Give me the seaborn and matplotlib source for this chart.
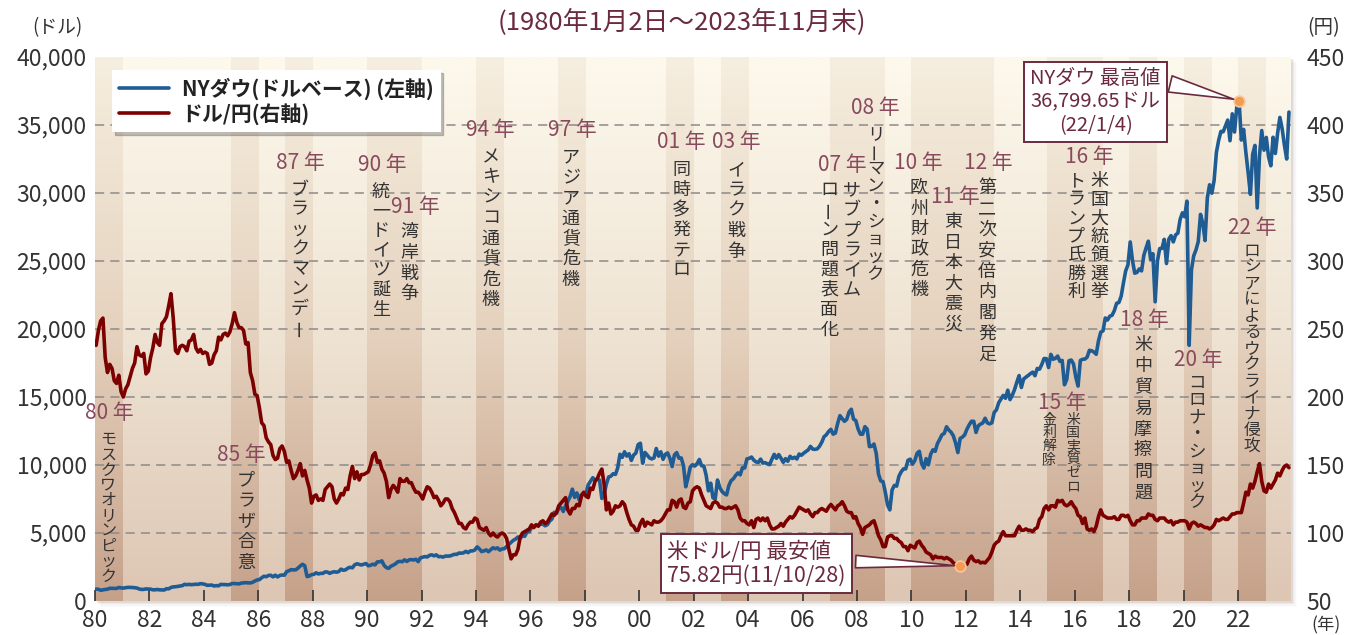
import numpy as np
import pandas as pd
import matplotlib
matplotlib.use("Agg")
import matplotlib.pyplot as plt
import seaborn as sns
from matplotlib.lines import Line2D
from matplotlib.patches import Rectangle

sns.set_theme(style="white")
plt.rcParams['font.family'] = ['Noto Sans CJK JP', 'DejaVu Sans']

# NYダウ 月次 (1980/1 - 2023/11), ドル
dow_values = [
    876, 863, 786, 817, 851, 868, 935, 933, 932, 925, 993, 964,            # 1980
    947, 975, 1004, 998, 992, 977, 953, 882, 850, 853, 889, 875,           # 1981
    871, 824, 823, 848, 820, 812, 809, 901, 896, 992, 1039, 1047,          # 1982
    1076, 1113, 1130, 1226, 1200, 1222, 1199, 1216, 1233, 1225, 1276, 1259,
    1221, 1155, 1165, 1171, 1105, 1132, 1115, 1224, 1207, 1207, 1189, 1212,
    1287, 1284, 1267, 1258, 1316, 1336, 1348, 1334, 1329, 1375, 1472, 1547,
    1571, 1709, 1819, 1784, 1877, 1893, 1775, 1898, 1768, 1878, 1914, 1896,
    2158, 2224, 2305, 2286, 2292, 2419, 2572, 2700, 2596, 1800, 1834, 1939,  # 1987
    1958, 2072, 1989, 2032, 2031, 2142, 2129, 2032, 2113, 2149, 2115, 2169,
    2342, 2259, 2294, 2419, 2480, 2440, 2661, 2737, 2693, 2645, 2706, 2753,
    2591, 2627, 2707, 2657, 2877, 2881, 2950, 2614, 2453, 2400, 2560, 2634,  # 1990
    2736, 2882, 2914, 2888, 3028, 2907, 3025, 3044, 3017, 3069, 2895, 3169,
    3224, 3267, 3236, 3359, 3397, 3319, 3394, 3257, 3272, 3226, 3305, 3301,
    3310, 3370, 3435, 3428, 3527, 3516, 3540, 3651, 3555, 3681, 3684, 3754,
    3978, 3832, 3636, 3682, 3758, 3625, 3765, 3913, 3843, 3908, 3739, 3834,
    3844, 4011, 4158, 4321, 4465, 4556, 4709, 4611, 4789, 4756, 5075, 5117,  # 1995
    5395, 5486, 5588, 5569, 5643, 5655, 5529, 5616, 5882, 6029, 6522, 6448,
    6813, 6878, 6584, 7009, 7331, 7673, 8223, 7622, 7945, 7442, 7823, 7908,
    7907, 8546, 8800, 9063, 8900, 8952, 8883, 7539, 7843, 8592, 9117, 9181,
    9359, 9307, 9786, 10789, 10560, 10971, 10655, 10829, 10337, 10729, 10878, 11497,
    11600, 10128, 10922, 10734, 10522, 10448, 10522, 11215, 10651, 10971, 10415, 10787,  # 2000
    10887, 10495, 9879, 10735, 10912, 10502, 10523, 9950, 8400, 9075, 9852, 10022,
    9920, 10106, 10404, 9946, 9925, 9243, 8100, 8664, 7592, 7500, 8896, 8342,
    8054, 7891, 7800, 8480, 8850, 8985, 9234, 9416, 9275, 9801, 9782, 10454,
    10488, 10584, 10358, 10226, 10188, 10435, 10140, 10174, 10080, 10027, 10428, 10783,
    10490, 10766, 10504, 10193, 10467, 10275, 10641, 10482, 10569, 10440, 10806, 10718,  # 2005
    10865, 10993, 11109, 11367, 11168, 11150, 11186, 11381, 11679, 12081, 12222, 12463,
    12622, 12268, 12354, 13063, 13628, 13409, 13212, 13358, 13896, 14100, 13372, 13265,
    12650, 12266, 12263, 12820, 12638, 11350, 11378, 11544, 10851, 9325, 8829, 8776,
    8001, 7063, 6700, 8168, 8500, 8447, 9172, 9496, 9712, 9713, 10345, 10428,
    10067, 10325, 10857, 11009, 10137, 9774, 10466, 10015, 10788, 11118, 11006, 11578,  # 2010
    11892, 12226, 12320, 12811, 12570, 12414, 12143, 11614, 10913, 11955, 12046, 12218,
    12633, 12952, 13212, 13214, 12393, 12880, 13009, 13091, 13437, 13096, 13026, 13104,
    13861, 14054, 14579, 14840, 15116, 14910, 15500, 14810, 15130, 15546, 16086, 16577,
    15699, 16322, 16458, 16581, 16717, 16827, 16563, 17098, 17043, 17391, 17828, 17823,
    17165, 18133, 17776, 17841, 18011, 17620, 17690, 15900, 16285, 17664, 17720, 17425,  # 2015
    16466, 15800, 17685, 17774, 17787, 17930, 18432, 18401, 18308, 18142, 19124, 19763,
    19864, 20812, 20663, 20941, 21009, 21350, 21891, 21948, 22405, 23377, 24272, 24719,
    26400, 25029, 24103, 24163, 24416, 24271, 25415, 25965, 26458, 25116, 25538, 22000,
    24999, 25916, 25929, 26593, 24815, 26600, 26864, 26403, 26917, 27046, 28051, 28538,
    28256, 29400, 18800, 24346, 25383, 25813, 26428, 28430, 27782, 26502, 29638, 30606,  # 2020
    29983, 30932, 32982, 33875, 34529, 34503, 34935, 35361, 33844, 35820, 34484, 36338,
    36799.65, 33893, 34678, 32977, 31500, 29900, 32845, 33500, 28900, 32733, 34590, 33147,
    34086, 32657, 32000, 34098, 32908, 34408, 35560, 34722, 33508, 32500, 35951,        # 2023
]

# ドル/円 月次, 円
usdjpy_values = [
    238, 249, 256, 258, 229, 218, 224, 221, 212, 210, 216, 204,   # 1980
    200, 206, 209, 215, 221, 225, 237, 231, 230, 232, 217, 219,
    229, 236, 246, 240, 238, 254, 256, 259, 267, 276, 258, 234,
    232, 237, 238, 237, 234, 241, 242, 246, 236, 233, 235, 232,
    233, 232, 224, 225, 231, 234, 244, 242, 246, 247, 245, 248,
    254, 262, 255, 251, 251, 249, 239, 240, 218, 212, 202, 201,   # 1985
    192, 181, 179, 170, 167, 165, 157, 154, 155, 162, 164, 160,
    152, 153, 146, 140, 142, 146, 151, 142, 146, 139, 133, 122,
    127, 128, 124, 125, 124, 132, 134, 136, 134, 125, 122, 125,
    129, 128, 133, 132, 142, 149, 140, 145, 139, 143, 143, 144,
    145, 150, 157, 159, 152, 153, 147, 144, 138, 126, 132, 135,   # 1990
    133, 130, 140, 138, 138, 140, 137, 137, 133, 130, 130, 128,
    125, 130, 134, 133, 130, 126, 127, 124, 120, 122, 125, 125,
    123, 118, 115, 111, 107, 107, 104, 103, 106, 108, 108, 111,
    110, 104, 103, 102, 104, 100, 98, 100, 98, 97, 99, 100,
    99, 96, 88, 81, 84, 84, 88, 97, 100, 101, 102, 103,           # 1995
    106, 104, 106, 105, 108, 109, 107, 108, 111, 114, 113, 115,
    120, 122, 124, 126, 117, 114, 118, 118, 121, 120, 127, 130,
    127, 126, 133, 132, 138, 140, 144, 147, 136, 117, 122, 114,
    116, 120, 119, 120, 123, 121, 115, 110, 106, 105, 102, 102,
    107, 110, 105, 108, 107, 106, 109, 108, 108, 109, 111, 114,   # 2000
    117, 117, 124, 123, 119, 124, 125, 119, 118, 122, 123, 131,
    133, 134, 133, 128, 124, 120, 119, 118, 122, 123, 122, 119,
    119, 118, 118, 119, 118, 119, 120, 117, 111, 109, 109, 107,
    106, 109, 104, 110, 111, 109, 111, 109, 111, 106, 103, 103,
    104, 105, 107, 105, 108, 110, 112, 111, 113, 116, 119, 118,   # 2005
    117, 116, 117, 114, 112, 115, 115, 117, 118, 117, 116, 119,
    121, 119, 117, 120, 121, 123, 120, 116, 115, 115, 111, 112,
    107, 104, 99, 104, 105, 106, 108, 109, 104, 98, 95, 90,
    90, 97, 98, 98, 96, 96, 94, 93, 90, 90, 87, 91,
    90, 89, 93, 94, 91, 89, 86, 85, 84, 81, 83, 82,               # 2010
    82, 82, 81, 82, 81, 80, 78, 77, 77, 75.82, 78, 77,
    77, 81, 83, 80, 79, 79.5, 78, 78.5, 78, 80, 82, 86,
    91, 93, 94, 98, 101, 98, 98, 98, 98, 98, 102, 105,
    102, 102, 103, 102, 102, 101, 103, 104, 110, 112, 118, 120,
    117, 120, 120, 119, 124, 123, 124, 121, 120, 121, 123, 120,   # 2015
    118, 113, 112, 107, 111, 103, 102, 103, 101, 105, 112, 117,
    113, 112, 111, 111, 111, 112, 110, 110, 113, 113, 112, 113,
    109, 106, 106, 109, 109, 111, 111, 111, 114, 113, 113, 110,
    109, 111, 111, 111, 109, 108, 109, 106, 108, 108, 109, 109,
    109, 108, 103, 107, 108, 107, 105, 106, 105, 104, 104, 103,   # 2020
    104, 106, 110, 109, 110, 111, 110, 110, 112, 114, 114, 115,
    115, 115, 122, 130, 128, 136, 133, 138, 145, 151, 138, 131,
    130, 136, 133, 136, 139, 144, 142, 146, 149, 150, 148,        # 2023
]

event_years = [1980, 1985, 1987, 1990, 1991, 1994, 1997, 2001, 2003, 2007,
               2008, 2010, 2011, 2012, 2015, 2016, 2018, 2020, 2022]
event_names = ['モスクワオリンピック', 'プラザ合意', 'ブラックマンデー', '統一ドイツ誕生',
               '湾岸戦争', 'メキシコ通貨危機', 'アジア通貨危機', '同時多発テロ', 'イラク戦争',
               'サブプライム|ローン問題表面化', 'リーマン・ショック', '欧州財政危機',
               '東日本大震災', '第二次安倍内閣発足', '米国実質ゼロ|金利解除',
               '米国大統領選挙|トランプ氏勝利', '米中貿易摩擦問題', 'コロナ・ショック',
               'ロシアによるウクライナ侵攻']

# 配置 (年ラベルx, 年ラベルy[ドル], 列のx, 縦書き開始y[ドル], 文字送り px, 文字サイズ)
event_layout = [
    (1980.51, 13824, [1980.49], 12427, 15.2, 11.5),
    (1985.37, 10735, [1985.55], 9632, 20.7, 13),
    (1987.53, 32206, [1987.53], 30956, 19.8, 13),
    (1990.55, 32059, [1990.51], 30810, 19.7, 13),
    (1991.76, 28971, [1991.54], 27874, 20.7, 13),
    (1994.52, 34633, [1994.55], 33383, 20.4, 13),
    (1997.53, 34633, [1997.49], 33383, 20.4, 13),
    (2001.54, 33751, [2001.54], 32427, 20.0, 13),
    (2003.56, 33751, [2003.56], 32427, 20.4, 13),
    (2007.45, 32059, [2007.82, 2006.99], 30956, 20.0, 13),
    (2008.67, 36250, [2008.68], 35000, 17.5, 12.5),
    (2010.25, 32206, [2010.28], 31103, 20.3, 13),
    (2011.61, 29706, [2011.53], 28603, 20.5, 13),
    (2012.82, 32206, [2012.78], 31103, 20.8, 13),
    (2015.54, 14559, [2015.94, 2015.06], 13824, 13.3, 10),
    (2016.53, 32647, [2016.90, 2016.05], 31544, 18.5, 13),
    (2018.55, 20662, [2018.51], 19559, 21.0, 13),
    (2020.54, 17721, [2020.50], 16618, 17.0, 12.5),
    (2022.52, 27427, [2022.52], 26324, 16.3, 12),
]

DOW_C = '#1f5c94'
JPY_C = '#7d0000'
MAUVE = '#8a4a5e'
MAROON = '#6b2a3e'
TXT = '#333333'

months = pd.date_range('1980-01-01', periods=len(dow_values), freq='MS')
df = pd.DataFrame({
    't': months.year + (months.month - 0.5) / 12,
    'dow': dow_values,
    'jpy': usdjpy_values,
})

fig = plt.figure(figsize=(13.47, 6.35), dpi=100)
L, B, W, H = 95 / 1347, 1 - 601 / 635, 1196 / 1347, 544 / 635
ax = fig.add_axes([L, B, W, H])
ax2 = ax.twinx()

# 影
for i, a in enumerate([0.10, 0.07, 0.04, 0.02]):
    off = (i + 1) * 1.5
    fig.patches.append(Rectangle((L + off / 1347, B - off / 635), W, H,
                                 transform=fig.transFigure, color='#6b5a50',
                                 alpha=a, zorder=-5, lw=0))

x0, x1 = 1980.0, 2023.95


def grad(top, mid, bot, n=256):
    c = [np.array(matplotlib.colors.to_rgb(v)) for v in (top, mid, bot)]
    t = np.linspace(0, 1, n)[:, None]
    g = np.where(t <= 0.5, c[0] + (c[1] - c[0]) * (t / 0.5),
                 c[1] + (c[2] - c[1]) * ((t - 0.5) / 0.5))
    return g[:, None, :]


ax.imshow(grad('#fdf9ec', '#efe4d4', '#ddc6b3'), extent=(x0, x1, 0, 40000),
          aspect='auto', zorder=0, interpolation='bilinear')
band = grad('#f6eedf', '#e5d2be', '#c6a18a')
for y in event_years:
    ax.imshow(band, extent=(y, y + 1, 0, 40000), aspect='auto', zorder=0.5,
              interpolation='bilinear')

for v in range(5000, 40000, 5000):
    ax.axhline(v, color='#8e8a88', lw=1.1, dashes=(6, 4), zorder=1)


def vtext(x, ytop, s, step, size):
    for i, ch in enumerate(s):
        ax.annotate(ch, xy=(x, ytop), xytext=(0, -(i + 0.5) * step * 0.72),
                    textcoords='offset points', ha='center', va='center',
                    rotation=90 if ch == 'ー' else 0, fontsize=size, color=TXT,
                    zorder=2, annotation_clip=False)


for yr, name, (lx, ly, cols, top, step, size) in zip(event_years, event_names, event_layout):
    ax.text(lx, ly, f"{yr % 100:02d} 年", ha='center', va='center', fontsize=15,
            color=MAUVE, zorder=2)
    for cx, part in zip(cols, name.split('|')):
        vtext(cx, top, part, step, size)

sns.lineplot(data=df, x='t', y='dow', ax=ax, color=DOW_C, linewidth=2.6, zorder=3)
sns.lineplot(data=df, x='t', y='jpy', ax=ax2, color=JPY_C, linewidth=2.6, zorder=3)

ax.set_xlim(x0, x1)
ax.set_ylim(0, 40000)
ax2.set_ylim(50, 450)
ax.set_xlabel('')
ax.set_ylabel('')
ax2.set_ylabel('')
for a in (ax, ax2):
    for s in a.spines.values():
        s.set_visible(False)

xt = list(range(1980, 2023, 2))
ax.set_xticks(xt)
ax.set_xticklabels([f"{v % 100:02d}" for v in xt])
ax.set_yticks(range(0, 40001, 5000))
ax.set_yticklabels([f"{v:,}" for v in range(0, 40001, 5000)])
ax2.set_yticks(range(50, 451, 50))
ax.tick_params(axis='x', direction='in', length=8, width=1.2, color=TXT,
               labelsize=16.5, labelcolor=TXT, pad=6, bottom=True)
ax.tick_params(axis='y', length=0, labelsize=16.5, labelcolor=TXT, pad=6)
ax2.tick_params(axis='y', length=0, labelsize=16.5, labelcolor=TXT, pad=11)

# 最高値・最安値
imax = df['dow'].idxmax()
imin = df['jpy'].idxmin()
ax.scatter(df.loc[imax, 't'], df.loc[imax, 'dow'], s=60, color='#f59a52',
           edgecolor='#f9c89c', linewidth=1.2, zorder=5)
ax2.scatter(df.loc[imin, 't'], df.loc[imin, 'jpy'], s=60, color='#f59a52',
            edgecolor='#f9c89c', linewidth=1.2, zorder=5)

box = dict(boxstyle='square,pad=0.3', fc='white', ec=MAROON, lw=1.4)
ax.annotate('NYダウ 最高値\n36,799.65ドル\n(22/1/4)',
            xy=(df.loc[imax, 't'], df.loc[imax, 'dow']), xytext=(2016.77, 36691),
            ha='center', va='center', multialignment='center', fontsize=14.5,
            color=MAROON, bbox=box, zorder=6, linespacing=1.15,
            arrowprops=dict(arrowstyle='wedge,tail_width=0.6', mutation_scale=20,
                            fc='white', ec=MAROON, lw=1.2, relpos=(1, 0.8),
                            shrinkB=4))
ax2.annotate('米ドル/円 最安値\n75.82円(11/10/28)',
             xy=(df.loc[imin, 't'], df.loc[imin, 'jpy']), xytext=(2004.31, 77.6),
             ha='center', va='center', multialignment='left', fontsize=15.5,
             color=MAROON, bbox=box, zorder=6, linespacing=1.1,
             arrowprops=dict(arrowstyle='wedge,tail_width=0.45', mutation_scale=20,
                             fc='white', ec=MAROON, lw=1.2, relpos=(1, 0.55),
                             shrinkB=4))

handles = [Line2D([], [], color=DOW_C, lw=2.6), Line2D([], [], color=JPY_C, lw=2.6)]
leg = ax2.legend(handles, ['NYダウ(ドルベース) (左軸)', 'ドル/円(右軸)'],
                 loc='upper left', bbox_to_anchor=(0.014, 0.976), borderaxespad=0,
                 frameon=True, fancybox=False, shadow={'color': '#555555', 'alpha': 0.35},
                 prop={'weight': 'bold', 'size': 15}, handlelength=2.4,
                 handletextpad=0.6, labelspacing=0.15, borderpad=0.35)
leg.get_frame().set_facecolor('white')
leg.get_frame().set_edgecolor('none')
for t in leg.get_texts():
    t.set_color('#222222')

fig.text(682 / 1347, 1 - 22 / 635, '(1980年1月2日～2023年11月末)', ha='center',
         va='center', fontsize=18.5, color=MAROON)
fig.text(57 / 1347, 1 - 28 / 635, '(ドル)', ha='center', va='center', fontsize=13.5, color=TXT)
fig.text(1324 / 1347, 1 - 28 / 635, '(円)', ha='center', va='center', fontsize=14, color=TXT)
fig.text(1326 / 1347, 1 - 625 / 635, '(年)', ha='center', va='center', fontsize=12.5, color=TXT)

fig.savefig('out.png', dpi=100)
